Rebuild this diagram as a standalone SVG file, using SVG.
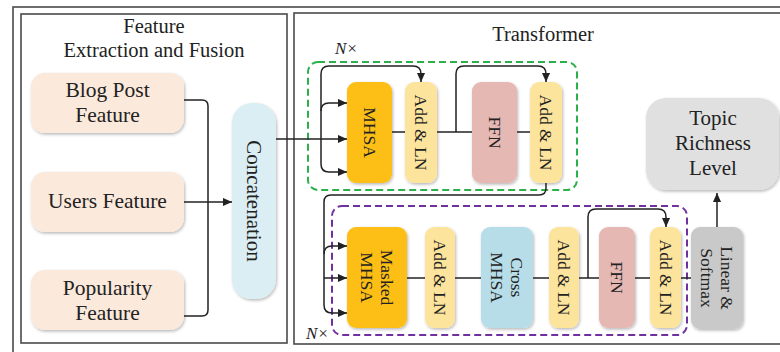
<svg xmlns="http://www.w3.org/2000/svg" width="780" height="352" viewBox="0 0 780 352">
  <defs>
    <filter id="soft" x="-20%" y="-20%" width="140%" height="140%">
      <feDropShadow dx="1" dy="1.5" stdDeviation="1.6" flood-color="#000" flood-opacity="0.28"/>
    </filter>
    <marker id="arr" viewBox="0 0 10 10" refX="10" refY="5" markerWidth="9" markerHeight="9" markerUnits="userSpaceOnUse" orient="auto">
      <path d="M0,0.5 L10,5 L0,9.5 Z" fill="#222"/>
    </marker>
    <style>
      .frame { fill: none; stroke: #4a4a4a; stroke-width: 1.6; }
      .t { font-family: "Liberation Serif", "Times New Roman", serif; fill: #222; }
      .title { font-size: 20.5px; text-anchor: middle; }
      .lbl { font-size: 21.5px; text-anchor: middle; }
      .vl { font-size: 17.5px; text-anchor: middle; dominant-baseline: central; }
      .nx { font-size: 17px; font-style: italic; }
      .feat { fill: #fbe9db; filter: url(#soft); }
      .concat { fill: #daeef3; filter: url(#soft); }
      .mhsa { fill: #fdbf14; filter: url(#soft); }
      .addln { fill: #fde49c; filter: url(#soft); }
      .ffn { fill: #e6b8b4; filter: url(#soft); }
      .cross { fill: #b7dde8; filter: url(#soft); }
      .lin { fill: #c9c9c9; filter: url(#soft); }
      .topic { fill: #e0e0e1; filter: url(#soft); }
      .enc { fill: none; stroke: #2bb04a; stroke-width: 2; stroke-dasharray: 7 4; }
      .dec { fill: none; stroke: #7030a0; stroke-width: 2; stroke-dasharray: 7 4; }
      .w { fill: none; stroke: #222; stroke-width: 1.5; }
      .wa { fill: none; stroke: #222; stroke-width: 1.5; marker-end: url(#arr); }
    </style>
  </defs>

  <rect width="780" height="352" fill="#fff"/>

  <!-- panels -->
  <rect class="frame" x="13" y="7" width="800" height="400"/>
  <rect class="frame" x="21" y="14" width="266" height="329"/>
  <rect class="frame" x="294" y="13" width="520" height="331"/>

  <text class="t title" x="154" y="33">Feature</text>
  <text class="t title" x="154" y="57">Extraction and Fusion</text>
  <text class="t title" x="543" y="41">Transformer</text>

  <!-- repeat-block outlines -->
  <rect class="enc" x="308" y="62" width="269" height="128" rx="10"/>
  <rect class="dec" x="332" y="206" width="355" height="129" rx="10"/>
  <text class="t nx" x="335" y="54">N×</text>
  <text class="t nx" x="306" y="339">N×</text>

  <!-- feature nodes -->
  <g id="blog-post-feature">
    <rect class="feat" x="31" y="73" width="153" height="60" rx="14"/>
    <text class="t lbl" x="107.5" y="97">Blog Post</text>
    <text class="t lbl" x="107.5" y="122">Feature</text>
  </g>
  <g id="users-feature">
    <rect class="feat" x="31" y="172" width="153" height="60" rx="14"/>
    <text class="t lbl" x="107.5" y="208">Users Feature</text>
  </g>
  <g id="popularity-feature">
    <rect class="feat" x="31" y="270" width="153" height="60" rx="14"/>
    <text class="t lbl" x="107.5" y="295">Popularity</text>
    <text class="t lbl" x="107.5" y="320">Feature</text>
  </g>
  <g id="concatenation">
    <rect class="concat" x="232" y="103" width="44" height="196" rx="20"/>
    <text class="t vl" style="font-size:21px" x="254" y="201" transform="rotate(90 254 201)">Concatenation</text>
  </g>

  <!-- encoder nodes -->
  <g id="enc-mhsa">
    <rect class="mhsa" x="347" y="82" width="45" height="101" rx="9"/>
    <text class="t vl" x="369.5" y="132.5" transform="rotate(90 369.5 132.5)">MHSA</text>
  </g>
  <g id="enc-addln-1">
    <rect class="addln" x="405" y="82" width="32" height="101" rx="9"/>
    <text class="t vl" x="421" y="132.5" transform="rotate(90 421 132.5)">Add &amp; LN</text>
  </g>
  <g id="enc-ffn">
    <rect class="ffn" x="472" y="82" width="45" height="101" rx="9"/>
    <text class="t vl" x="494.5" y="132.5" transform="rotate(90 494.5 132.5)">FFN</text>
  </g>
  <g id="enc-addln-2">
    <rect class="addln" x="530" y="82" width="32" height="101" rx="9"/>
    <text class="t vl" x="546" y="132.5" transform="rotate(90 546 132.5)">Add &amp; LN</text>
  </g>

  <!-- decoder nodes -->
  <g id="dec-masked-mhsa">
    <rect class="mhsa" x="347" y="227" width="60" height="101" rx="9"/>
    <g transform="rotate(90 377 277.5)">
      <text class="t vl" x="377" y="267.5">Masked</text>
      <text class="t vl" x="377" y="287.5">MHSA</text>
    </g>
  </g>
  <g id="dec-addln-1">
    <rect class="addln" x="425" y="227" width="30" height="101" rx="9"/>
    <text class="t vl" x="440" y="277.5" transform="rotate(90 440 277.5)">Add &amp; LN</text>
  </g>
  <g id="dec-cross-mhsa">
    <rect class="cross" x="481" y="227" width="52" height="101" rx="9"/>
    <g transform="rotate(90 507 277.5)">
      <text class="t vl" x="507" y="267.5">Cross</text>
      <text class="t vl" x="507" y="287.5">MHSA</text>
    </g>
  </g>
  <g id="dec-addln-2">
    <rect class="addln" x="549" y="227" width="30" height="101" rx="9"/>
    <text class="t vl" x="564" y="277.5" transform="rotate(90 564 277.5)">Add &amp; LN</text>
  </g>
  <g id="dec-ffn">
    <rect class="ffn" x="599" y="227" width="36" height="101" rx="9"/>
    <text class="t vl" x="617" y="277.5" transform="rotate(90 617 277.5)">FFN</text>
  </g>
  <g id="dec-addln-3">
    <rect class="addln" x="650" y="227" width="31" height="101" rx="9"/>
    <text class="t vl" x="665.5" y="277.5" transform="rotate(90 665.5 277.5)">Add &amp; LN</text>
  </g>
  <g id="linear-softmax">
    <rect class="lin" x="691" y="227" width="52" height="102" rx="9"/>
    <g transform="rotate(90 717 278)">
      <text class="t vl" x="717" y="268">Linear &amp;</text>
      <text class="t vl" x="717" y="288">Softmax</text>
    </g>
  </g>
  <g id="topic-richness-level">
    <rect class="topic" x="646" y="98" width="133" height="92" rx="20"/>
    <text class="t lbl" style="font-size:21px" x="713" y="125">Topic</text>
    <text class="t lbl" style="font-size:21px" x="713" y="150">Richness</text>
    <text class="t lbl" style="font-size:21px" x="713" y="175">Level</text>
  </g>

  <!-- connectors -->
  <g id="connectors">
    <!-- features into concatenation -->
    <path class="w" d="M184,100 H202 Q208,100 208,106 V310 Q208,316 202,316 H184"/>
    <path class="wa" d="M184,202 H232"/>

    <!-- encoder input and residual branches -->
    <path class="wa" d="M276,139 H347"/>
    <path class="wa" d="M321,164 V74 Q321,66 329,66 H413 Q421,66 421,74 V82"/>
    <path class="wa" d="M321,164 Q321,172 329,172 H347"/>
    <path class="wa" d="M321,111 Q321,103 329,103 H347"/>
    <path class="w" d="M392,132 H405"/>
    <path class="w" d="M437,132 H472"/>
    <path class="wa" d="M456,132 V74 Q456,66 464,66 H538 Q546,66 546,74 V82"/>
    <path class="w" d="M517,132 H530"/>

    <!-- encoder output into decoder -->
    <path class="w" d="M546,183 V188 Q546,195 539,195 H331 Q324,195 324,202 V305"/>
    <path class="wa" d="M324,305 Q324,313 332,313 H347"/>
    <path class="wa" d="M324,278 H347"/>
    <path class="wa" d="M324,254 Q324,246 332,246 H347"/>

    <!-- decoder chain -->
    <path class="w" d="M407,278 H425"/>
    <path class="w" d="M455,278 H481"/>
    <path class="w" d="M533,278 H549"/>
    <path class="w" d="M579,278 H599"/>
    <path class="wa" d="M588,278 V217 Q588,209 596,209 H658 Q666,209 666,217 V227"/>
    <path class="w" d="M635,278 H650"/>
    <path class="w" d="M681,278 H691"/>

    <!-- classifier output -->
    <path class="wa" d="M717,227 V193"/>
  </g>
</svg>
